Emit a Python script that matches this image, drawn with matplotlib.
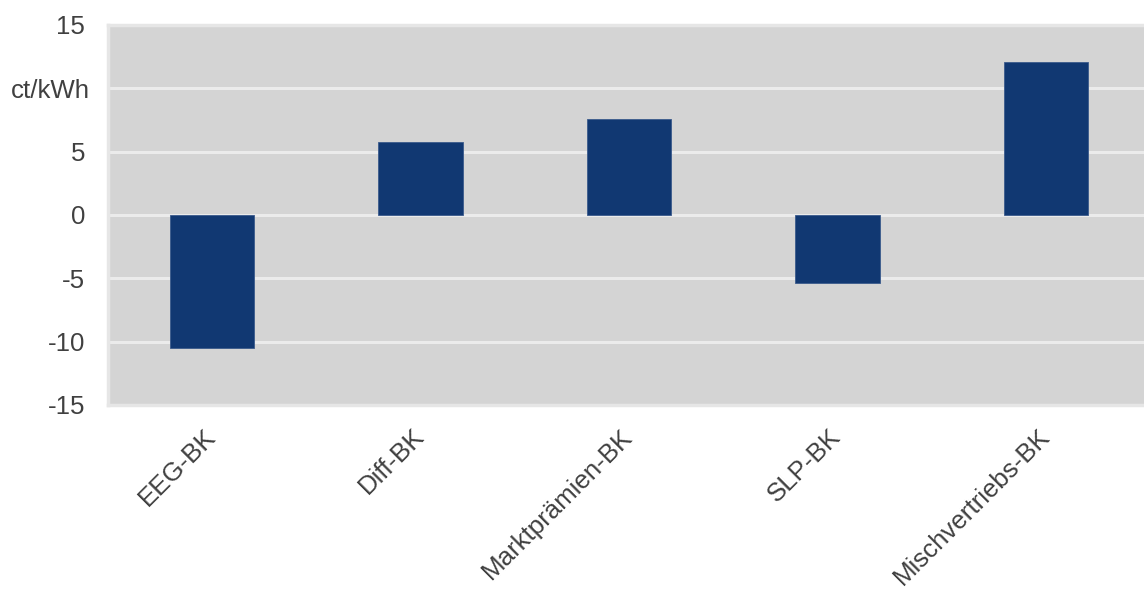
import matplotlib
matplotlib.use("Agg")
import matplotlib.pyplot as plt
import matplotlib.transforms as mtransforms

categories = ["EEG-BK", "Diff-BK", "Marktprämien-BK", "SLP-BK", "Mischvertriebs-BK"]
values = [-10.5, 5.75, 7.6, -5.35, 12.1]
yticks = [-15, -10, -5, 0, 5, 10, 15]
ytick_labels = ["-15", "-10", "-5", "0", "5", "ct/kWh", "15"]

plt.rcParams['font.family'] = ['Liberation Sans', 'DejaVu Sans']
text_color = "#404040"
fs = 18.6

fig = plt.figure(figsize=(11.44, 5.92), dpi=100)
ax = fig.add_axes([108/1144, 1 - 405/592, 1042/1144, (405 - 25)/592])
ax.set_facecolor("#d4d4d4")

x = list(range(len(categories)))
ax.bar(x, values, width=0.405, color="#113872", edgecolor="#3a5a8c", linewidth=0.6, zorder=3)

ax.set_xlim(-0.5, len(categories) - 0.5)
ax.set_ylim(-15, 15)
ax.set_yticks(yticks)
ax.set_yticklabels(ytick_labels)
ax.yaxis.grid(True, color="#ebebeb", linewidth=2.2, zorder=1)
ax.set_axisbelow(True)

ax.set_xticks(x)
ax.set_xticklabels(categories, rotation=45, ha="right", va="center",
                   rotation_mode="anchor")
offset_x = mtransforms.ScaledTranslation(6/100, 0, fig.dpi_scale_trans)
for lbl in ax.get_xticklabels():
    lbl.set_fontsize(fs)
    lbl.set_color(text_color)
    lbl.set_transform(lbl.get_transform() + offset_x)
ax.tick_params(axis="x", length=0, pad=20)
ax.tick_params(axis="y", length=0, pad=16.5, labelsize=fs, labelcolor=text_color)

offset_ct = mtransforms.ScaledTranslation(5/100, 0, fig.dpi_scale_trans)
for lbl in ax.get_yticklabels():
    if lbl.get_text() == "ct/kWh":
        lbl.set_transform(lbl.get_transform() + offset_ct)

for side in ["top", "left", "bottom"]:
    ax.spines[side].set_color("#e6e6e6")
    ax.spines[side].set_linewidth(2.5)
ax.spines["right"].set_visible(False)

fig.savefig("out.png", dpi=100)
